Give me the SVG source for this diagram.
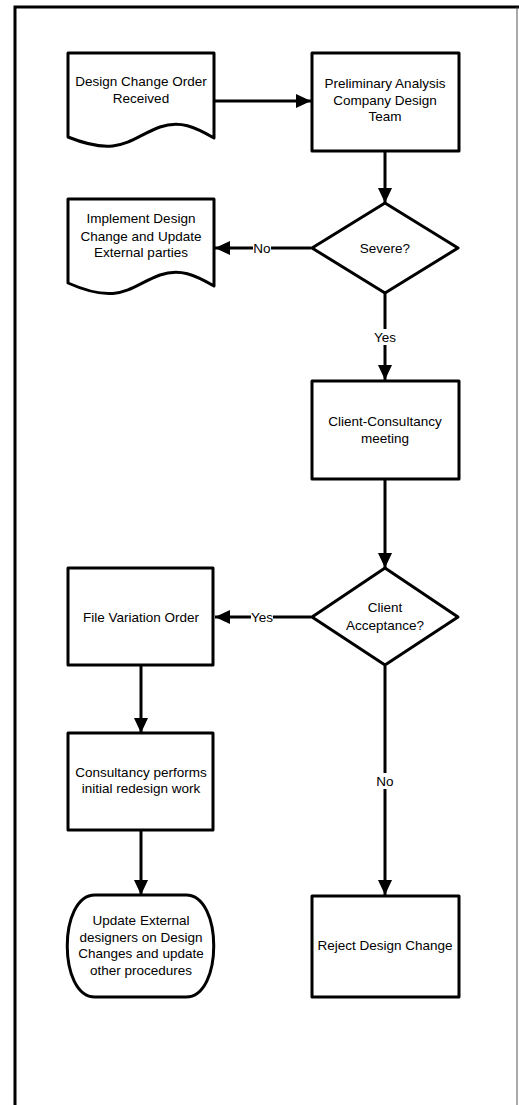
<svg xmlns="http://www.w3.org/2000/svg" width="519" height="1105" viewBox="0 0 519 1105">
<defs>
<marker id="arr" markerUnits="userSpaceOnUse" markerWidth="16" markerHeight="16" refX="15" refY="7" orient="auto">
<path d="M0,0 L15,7 L0,14 Z" fill="#000"/>
</marker>
<style>
.shape{fill:#fff;stroke:#000;stroke-width:3;stroke-linejoin:round}
.conn{fill:none;stroke:#000;stroke-width:3}
text{font-family:"Liberation Sans",Arial,sans-serif;font-size:13.5px;fill:#000;text-anchor:middle}
.lbl{fill:#fff;stroke:none}
</style>
</defs>
<rect width="519" height="1105" fill="#fff"/>
<path d="M15,1110 V7 H520" fill="none" stroke="#000" stroke-width="3"/>
<line x1="517" y1="7" x2="517" y2="1110" stroke="#555" stroke-width="1"/>

<g id="connectors">
<line class="conn" x1="215" y1="101" x2="311" y2="101" marker-end="url(#arr)"/>
<line class="conn" x1="385" y1="152" x2="385" y2="203" marker-end="url(#arr)"/>
<line class="conn" x1="311" y1="248" x2="215" y2="248" marker-end="url(#arr)"/>
<line class="conn" x1="385" y1="293" x2="385" y2="380" marker-end="url(#arr)"/>
<line class="conn" x1="385" y1="480" x2="385" y2="568" marker-end="url(#arr)"/>
<line class="conn" x1="311" y1="617" x2="215" y2="617" marker-end="url(#arr)"/>
<line class="conn" x1="141" y1="666" x2="141" y2="733" marker-end="url(#arr)"/>
<line class="conn" x1="141" y1="831" x2="141" y2="895" marker-end="url(#arr)"/>
<line class="conn" x1="385" y1="666" x2="385" y2="895" marker-end="url(#arr)"/>
<rect class="lbl" x="253" y="240" width="18" height="16"/>
<text x="262" y="253">No</text>
<rect class="lbl" x="374" y="329" width="22" height="16"/>
<text x="385" y="342">Yes</text>
<rect class="lbl" x="251" y="609" width="22" height="16"/>
<text x="262" y="622">Yes</text>
<rect class="lbl" x="376" y="773" width="18" height="16"/>
<text x="385" y="786">No</text>
</g>

<g id="n1">
<path class="shape" d="M68,53 H214 V138 C195,127 180,120 160,127 C130,138 120,158 68,137 Z"/>
<text x="141" y="86">Design Change Order</text>
<text x="141" y="103">Received</text>
</g>
<g id="n2">
<rect class="shape" x="312" y="53" width="147" height="98"/>
<text x="385" y="88">Preliminary Analysis</text>
<text x="385" y="105">Company Design</text>
<text x="385" y="121">Team</text>
</g>
<g id="n3">
<path class="shape" d="M385,203 L458,248 L385,293 L312,248 Z"/>
<text x="385" y="253">Severe?</text>
</g>
<g id="n4">
<path class="shape" d="M68,199 H214 V286 C195,275 180,268 160,275 C130,286 120,306 68,283 Z"/>
<text x="141" y="223">Implement Design</text>
<text x="141" y="241">Change and Update</text>
<text x="141" y="257">External parties</text>
</g>
<g id="n5">
<rect class="shape" x="312" y="381" width="147" height="98"/>
<text x="385" y="426">Client-Consultancy</text>
<text x="385" y="443">meeting</text>
</g>
<g id="n6">
<path class="shape" d="M385,568 L458,617 L385,665 L312,617 Z"/>
<text x="385" y="612">Client</text>
<text x="385" y="630">Acceptance?</text>
</g>
<g id="n7">
<rect class="shape" x="68" y="568" width="145" height="97"/>
<text x="141" y="622">File Variation Order</text>
</g>
<g id="n8">
<rect class="shape" x="68" y="733" width="145" height="97"/>
<text x="141" y="777">Consultancy performs</text>
<text x="141" y="793">initial redesign work</text>
</g>
<g id="n9">
<path class="shape" d="M95,895 H186 C223,895 223,997 186,997 H95 C58,997 58,895 95,895 Z"/>
<text x="141" y="925">Update External</text>
<text x="141" y="942">designers on Design</text>
<text x="141" y="958">Changes and update</text>
<text x="141" y="975">other procedures</text>
</g>
<g id="n10">
<rect class="shape" x="312" y="896" width="147" height="101"/>
<text x="385" y="950">Reject Design Change</text>
</g>
</svg>
